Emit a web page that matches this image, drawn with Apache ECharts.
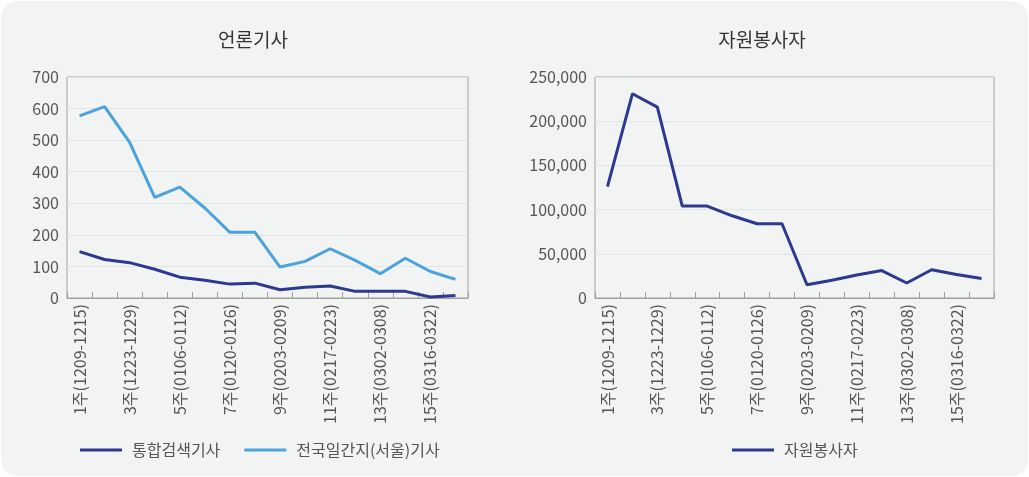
<!DOCTYPE html>
<html style="height: 100%">

<head>
    <meta charset="utf-8">
</head>

<body style="height: 100%; margin: 0; background: #ffffff">
    <div id="container" style="position: absolute; left: 1px; top: 1px; width: 1027px; height: 475px; background: #f2f3f3; border-radius: 16px"></div>
    <script src="https://cdn.jsdelivr.net/npm/echarts@6/dist/echarts.min.js"></script>
    <script type="text/javascript">
        var weeks = ['1주(1209-1215)', '2주(1216-1222)', '3주(1223-1229)', '4주(1230-0105)',
            '5주(0106-0112)', '6주(0113-0119)', '7주(0120-0126)', '8주(0127-0202)',
            '9주(0203-0209)', '10주(0210-0216)', '11주(0217-0223)', '12주(0224-0301)',
            '13주(0302-0308)', '14주(0309-0315)', '15주(0316-0322)', '16주(0323-0329)'];
        var searchNews = [147, 122, 112, 91, 66, 56, 44, 47, 26, 34, 38, 21, 21, 21, 3, 8];
        var dailyNews = [577, 606, 493, 319, 351, 285, 208, 208, 98, 116, 156, 119, 77, 126, 84, 59];
        var volunteers = [126000, 231000, 216000, 104000, 104000, 93000, 84000, 84000,
            15000, 20000, 26000, 31000, 17000, 32000, 26500, 22000];

        var dark = '#2b3990';
        var light = '#4aa3dc';
        var font = '"Noto Sans CJK KR", "Noto Sans", sans-serif';

        var dom = document.getElementById("container");
        var myChart = echarts.init(dom, null, { renderer: 'canvas' });

        function xAxis(idx) {
            return {
                type: 'category',
                gridIndex: idx,
                data: weeks,
                boundaryGap: true,
                axisLine: { lineStyle: { color: '#a0a0a0', width: 1 } },
                axisTick: { show: true, inside: true, length: 6, interval: 0, lineStyle: { color: '#a0a0a0' } },
                axisLabel: { rotate: 90, interval: 1, margin: 6, color: '#555', fontSize: 16, fontFamily: font }
            };
        }

        function yAxis(idx, max, interval, fmt) {
            return {
                type: 'value',
                gridIndex: idx,
                min: 0,
                max: max,
                interval: interval,
                axisLine: { show: false },
                axisTick: { show: false },
                splitLine: { lineStyle: { color: '#e2e4e4', width: 1 } },
                axisLabel: { color: '#555', fontSize: 16, margin: 8, fontFamily: font, formatter: fmt }
            };
        }

        var legendText = { fontSize: 16, color: '#555', fontFamily: font, padding: [0, 0, 0, 5] };

        var option = {
            textStyle: { fontFamily: font },
            title: [
                { text: '언론기사', left: 247, top: 24, textAlign: 'center',
                  textStyle: { fontSize: 19, fontWeight: 'normal', color: '#333', fontFamily: font } },
                { text: '자원봉사자', left: 756, top: 24, textAlign: 'center',
                  textStyle: { fontSize: 19, fontWeight: 'normal', color: '#333', fontFamily: font } }
            ],
            legend: [
                { data: ['통합검색기사', '전국일간지(서울)기사'], left: 79, top: 441, padding: 0,
                  itemWidth: 42, itemHeight: 3, itemGap: 24, icon: 'rect', textStyle: legendText },
                { data: ['자원봉사자'], left: 731, top: 441, padding: 0,
                  itemWidth: 42, itemHeight: 3, icon: 'rect', textStyle: legendText }
            ],
            grid: [
                { left: 66, right: 560, top: 76, bottom: 178, show: true, borderColor: '#a0a0a0', borderWidth: 1, backgroundColor: 'transparent' },
                { left: 594, right: 34, top: 76, bottom: 178, show: true, borderColor: '#a0a0a0', borderWidth: 1, backgroundColor: 'transparent' }
            ],
            xAxis: [xAxis(0), xAxis(1)],
            yAxis: [
                yAxis(0, 700, 100, function (v) { return v; }),
                yAxis(1, 250000, 50000, function (v) { return v.toLocaleString('en-US'); })
            ],
            series: [
                { name: '통합검색기사', type: 'line', xAxisIndex: 0, yAxisIndex: 0, data: searchNews,
                  symbol: 'none', lineStyle: { color: dark, width: 3 }, itemStyle: { color: dark } },
                { name: '전국일간지(서울)기사', type: 'line', xAxisIndex: 0, yAxisIndex: 0, data: dailyNews,
                  symbol: 'none', lineStyle: { color: light, width: 3 }, itemStyle: { color: light } },
                { name: '자원봉사자', type: 'line', xAxisIndex: 1, yAxisIndex: 1, data: volunteers,
                  symbol: 'none', lineStyle: { color: dark, width: 3 }, itemStyle: { color: dark } }
            ],
            animation: false
        };

        myChart.setOption(option);
    </script>
</body>

</html>
